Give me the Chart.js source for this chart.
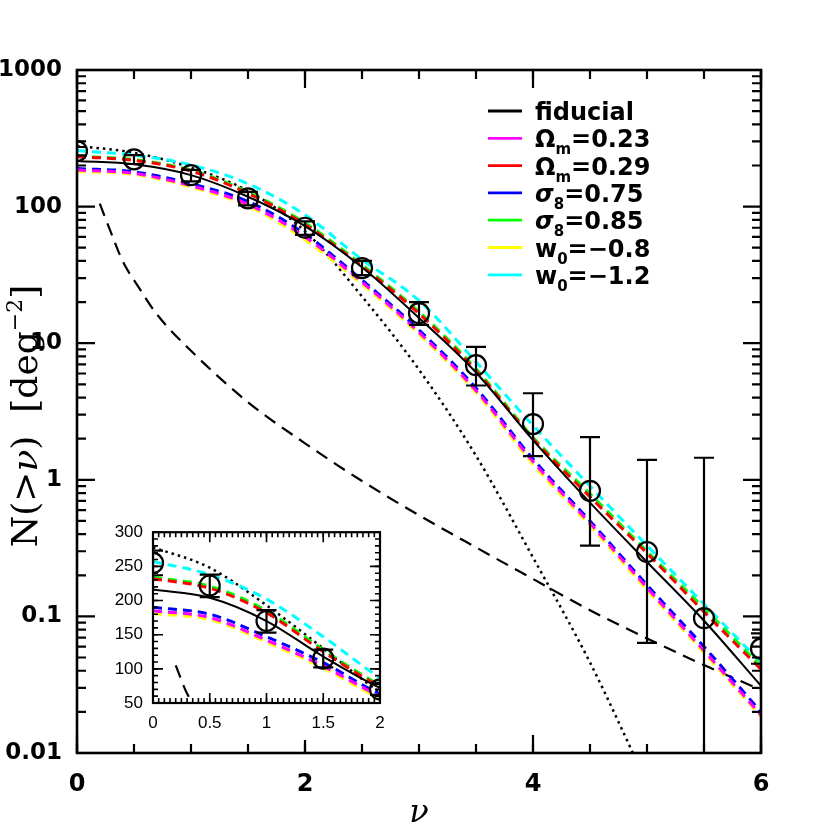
<!DOCTYPE html>
<html>
<head>
<meta charset="utf-8">
<script src="https://cdn.jsdelivr.net/npm/chart.js@4.4.0/dist/chart.umd.min.js"></script>
<style>
html, body { margin: 0; padding: 0; background: #fff; }
#wrap { position: relative; width: 830px; height: 830px; }
#main { position: absolute; left: 0; top: 0; }
#inset { position: absolute; left: 95px; top: 512px; background: #fff; }
</style>
</head>
<body>
<div id="wrap">
<canvas id="main" width="830" height="830"></canvas>
<canvas id="inset" width="300" height="228"></canvas>
</div>
<script>
// values
const nu = [0, 0.5, 1, 1.5, 2, 2.5, 3, 3.5, 4, 4.5, 5, 5.5, 6]
const fiducial = [216, 204, 170, 118, 72, 36, 15.3, 6.1, 1.95, 0.68, 0.25, 0.093, 0.031]
const om023 = [185, 175, 142, 104, 60, 28, 12, 4.5, 1.36, 0.48, 0.162, 0.056, 0.019]
const om029 = [232, 218, 182, 125, 74, 36.5, 16.5, 6.3, 2.0, 0.75, 0.29, 0.108, 0.041]
const s8075 = [190, 180, 147, 109, 63, 29, 12.5, 4.7, 1.42, 0.5, 0.17, 0.06, 0.020]
const s8085 = [234, 221, 185, 128, 76, 37.5, 17, 6.5, 2.05, 0.79, 0.30, 0.115, 0.043]
const w08 = [181, 172, 139, 101, 57, 27, 11.6, 4.35, 1.3, 0.46, 0.156, 0.054, 0.0185]
const w12 = [257, 238, 202, 147, 87, 41, 20.5, 7.3, 2.5, 0.9, 0.33, 0.123, 0.046]

const nuDot = [0, 0.5, 1, 1.5, 2, 2.5, 3, 3.5, 4, 4.5, 5]
const dotted = [278, 248, 193, 130, 66, 22, 6.4, 1.5, 0.27, 0.046, 0.006]

const nuDash = [0.2, 0.3, 0.4, 0.55, 0.7, 1, 1.5, 2, 2.5, 3, 3.5, 4, 4.5, 5, 5.5, 6]
const dashed = [105, 64, 40, 25, 16.3, 8.8, 3.7, 1.85, 0.98, 0.55, 0.32, 0.188, 0.111, 0.069, 0.044, 0.029]

const obs = [255, 222, 170, 115, 70, 35.5, 16.6, 6.9, 2.56, 0.83, 0.296, 0.097, 0.058]
const obsLo = [237, 205, 153, 102, 62, 31.5, 13.6, 4.9, 1.49, 0.33, 0.064, 0.001, 0.045]
const obsHi = [273, 238, 186, 128, 78, 40, 20, 9.4, 4.3, 2.05, 1.40, 1.45, 0.075]

const yTicks = [0.01, 0.1, 1, 10, 100, 1000]
const yTickLabels = ['0.01', '0.1', '1', '10', '100', '1000']
const xTicks = [0, 2, 4, 6]
const insetXTicks = [0, 0.5, 1, 1.5, 2]
const insetXLabels = ['0', '0.5', '1', '1.5', '2']
const insetYTicks = [50, 100, 150, 200, 250, 300]

const series = [
    {label: 'fiducial', y: fiducial, color: '#000000', sub: null},
    {label: 'Ω', sub: 'm', rest: '=0.23', y: om023, color: '#ff00ff'},
    {label: 'Ω', sub: 'm', rest: '=0.29', y: om029, color: '#ff0000'},
    {label: 'σ', sub: '8', rest: '=0.75', y: s8075, color: '#0000ff', italic: true},
    {label: 'σ', sub: '8', rest: '=0.85', y: s8085, color: '#00ff00', italic: true},
    {label: 'w', sub: '0', rest: '=−0.8', y: w08, color: '#ffff00'},
    {label: 'w', sub: '0', rest: '=−1.2', y: w12, color: '#00ffff'}
]

function pts(xs, ys) {
    return xs.map((x, i) => ({x: x, y: ys[i]}))
}

function buildDatasets() {
    let ds = []
    ds.push({
        label: 'data', data: pts(nu, obs), showLine: false,
        pointRadius: 10, pointHoverRadius: 10, pointBorderWidth: 2.2,
        pointBackgroundColor: 'rgba(0,0,0,0)', borderColor: '#000', clip: 0
    })
    series.forEach((s, i) => {
        ds.push({
            label: s.label, data: pts(nu, s.y),
            borderColor: s.color, borderWidth: i === 0 ? 2 : 3,
            borderDash: i === 0 ? [] : [9, 6],
            pointRadius: 0, cubicInterpolationMode: 'monotone', clip: 0
        })
    })
    ds.push({
        label: 'dotted', data: pts(nuDot, dotted), borderColor: '#000',
        borderWidth: 2.5, borderDash: [2.5, 4], pointRadius: 0,
        cubicInterpolationMode: 'monotone', clip: 0
    })
    ds.push({
        label: 'dashed', data: pts(nuDash, dashed), borderColor: '#000',
        borderWidth: 2.2, borderDash: [13, 8], pointRadius: 0,
        cubicInterpolationMode: 'monotone', clip: 0
    })
    return ds
}

// box with inward ticks on all four sides
const framePlugin = {
    id: 'frame',
    afterDraw(chart, args, o) {
        const ctx = chart.ctx, a = chart.chartArea
        const xs = chart.scales.x, ys = chart.scales.y
        ctx.save()
        ctx.strokeStyle = '#000'
        const draw = (vals, len, isX) => {
            ctx.beginPath()
            vals.forEach(v => {
                if (isX) {
                    const px = xs.getPixelForValue(v)
                    ctx.moveTo(px, a.bottom); ctx.lineTo(px, a.bottom - len)
                    ctx.moveTo(px, a.top); ctx.lineTo(px, a.top + len)
                } else {
                    const py = ys.getPixelForValue(v)
                    ctx.moveTo(a.left, py); ctx.lineTo(a.left + len, py)
                    ctx.moveTo(a.right, py); ctx.lineTo(a.right - len, py)
                }
            })
            ctx.stroke()
        }
        ctx.lineWidth = o.tickLw
        draw(o.xMajor, o.majorLen, true)
        draw(o.xMinor, o.minorLen, true)
        draw(o.yMajor, o.majorLen, false)
        draw(o.yMinor, o.minorLen, false)
        ctx.lineWidth = o.boxLw
        ctx.strokeRect(a.left, a.top, a.right - a.left, a.bottom - a.top)
        ctx.restore()
    }
}

const errPlugin = {
    id: 'errbars',
    afterDatasetsDraw(chart) {
        const ctx = chart.ctx, a = chart.chartArea
        const xs = chart.scales.x, ys = chart.scales.y
        ctx.save()
        ctx.beginPath()
        ctx.rect(a.left, a.top, a.right - a.left, a.bottom - a.top)
        ctx.clip()
        ctx.strokeStyle = '#000'
        ctx.lineWidth = 2.2
        ctx.beginPath()
        nu.forEach((x, i) => {
            const px = xs.getPixelForValue(x)
            const lo = ys.getPixelForValue(Math.max(obsLo[i], ys.min / 10))
            const hi = ys.getPixelForValue(obsHi[i])
            ctx.moveTo(px, lo); ctx.lineTo(px, hi)
            ctx.moveTo(px - 10, lo); ctx.lineTo(px + 10, lo)
            ctx.moveTo(px - 10, hi); ctx.lineTo(px + 10, hi)
        })
        ctx.stroke()
        ctx.restore()
    }
}

function drawPieces(ctx, pieces, x, y) {
    pieces.forEach(p => {
        ctx.font = p.f
        ctx.fillText(p.t, x, y + (p.dy || 0))
        x += ctx.measureText(p.t).width + (p.gap || 0)
    })
    return x
}

function piecesWidth(ctx, pieces) {
    let w = 0
    pieces.forEach(p => { ctx.font = p.f; w += ctx.measureText(p.t).width + (p.gap || 0) })
    return w
}

const annotPlugin = {
    id: 'annot',
    afterDraw(chart) {
        const ctx = chart.ctx
        ctx.save()
        ctx.fillStyle = '#000'
        ctx.textBaseline = 'alphabetic'
        // legend
        series.forEach((s, i) => {
            const y = 111 + i * 27.3
            ctx.strokeStyle = s.color
            ctx.lineWidth = 2.8
            ctx.beginPath(); ctx.moveTo(488, y); ctx.lineTo(522, y); ctx.stroke()
            let pieces
            if (!s.sub) {
                pieces = [{t: s.label, f: 'bold 24px "DejaVu Sans"'}]
            } else {
                pieces = [
                    {t: s.label, f: (s.italic ? 'italic ' : '') + 'bold 24px "DejaVu Sans"'},
                    {t: s.sub, f: 'bold 15px "DejaVu Sans"', dy: 7},
                    {t: s.rest, f: 'bold 24px "DejaVu Sans"'}
                ]
            }
            drawPieces(ctx, pieces, 535, y + 9)
        })
        // x title
        ctx.font = 'italic 32px "DejaVu Serif"'
        ctx.textAlign = 'center'
        ctx.fillText('ν', 419, 822)
        ctx.textAlign = 'left'
        // y title, rotated
        const yt = [
            {t: 'N(>', f: '36px "DejaVu Serif"'},
            {t: 'ν', f: 'italic 36px "DejaVu Serif"'},
            {t: ')  [deg', f: '36px "DejaVu Serif"'},
            {t: '−2', f: '22px "DejaVu Serif"', dy: -15},
            {t: ']', f: '36px "DejaVu Serif"'}
        ]
        ctx.translate(24, 416)
        ctx.rotate(-Math.PI / 2)
        const w = piecesWidth(ctx, yt)
        drawPieces(ctx, yt, -w / 2, 13)
        ctx.restore()
    }
}

function range(a, b, step) {
    let out = []
    for (let v = a; v <= b + 1e-9; v += step) out.push(+v.toFixed(4))
    return out
}

let yMinor = []
for (let e = -2; e < 3; e++) for (let k = 2; k < 10; k++) yMinor.push(k * Math.pow(10, e))

Chart.defaults.color = '#000'
Chart.defaults.animation = false

const mainChart = new Chart(document.getElementById('main'), {
    type: 'line',
    data: {datasets: buildDatasets()},
    options: {
        responsive: false,
        animation: false,
        events: [],
        layout: {padding: {top: 70, right: 69, left: 0, bottom: 0}},
        plugins: {
            legend: {display: false},
            tooltip: {enabled: false},
            frame: {
                xMajor: xTicks, xMinor: range(0, 6, 0.5), yMajor: yTicks, yMinor: yMinor,
                majorLen: 18, minorLen: 9, tickLw: 2.2, boxLw: 2.6
            }
        },
        scales: {
            x: {
                type: 'linear', min: 0, max: 6,
                afterFit: s => { s.height = 77 },
                afterBuildTicks: s => { s.ticks = xTicks.map(v => ({value: v})) },
                grid: {display: false, drawTicks: false},
                border: {display: false},
                ticks: {font: {family: 'DejaVu Sans', weight: 'bold', size: 24}, padding: 17, maxRotation: 0, autoSkip: false}
            },
            y: {
                type: 'logarithmic', min: 0.01, max: 1000,
                afterFit: s => { s.width = 77 },
                afterBuildTicks: s => { s.ticks = yTicks.map(v => ({value: v})) },
                grid: {display: false, drawTicks: false},
                border: {display: false},
                ticks: {
                    font: {family: 'DejaVu Sans', weight: 'bold', size: 23}, padding: 15, autoSkip: false,
                    callback: (v, i) => yTickLabels[i]
                }
            }
        }
    },
    plugins: [framePlugin, errPlugin, annotPlugin]
})

const insetChart = new Chart(document.getElementById('inset'), {
    type: 'line',
    data: {datasets: buildDatasets()},
    options: {
        responsive: false,
        animation: false,
        events: [],
        layout: {padding: {top: 16, right: 15, left: 0, bottom: 0}},
        plugins: {
            legend: {display: false},
            tooltip: {enabled: false},
            frame: {
                xMajor: insetXTicks, xMinor: range(0, 2, 0.05), yMajor: insetYTicks, yMinor: range(50, 300, 10),
                majorLen: 10, minorLen: 5, tickLw: 1.6, boxLw: 2.2
            }
        },
        scales: {
            x: {
                type: 'linear', min: 0, max: 2,
                afterFit: s => { s.height = 37 },
                afterBuildTicks: s => { s.ticks = insetXTicks.map(v => ({value: v})) },
                grid: {display: false, drawTicks: false},
                border: {display: false},
                ticks: {
                    font: {family: 'Liberation Sans', size: 17}, padding: 10, maxRotation: 0, autoSkip: false,
                    callback: (v, i) => insetXLabels[i]
                }
            },
            y: {
                type: 'linear', min: 50, max: 300,
                afterFit: s => { s.width = 58 },
                afterBuildTicks: s => { s.ticks = insetYTicks.map(v => ({value: v})) },
                grid: {display: false, drawTicks: false},
                border: {display: false},
                ticks: {font: {family: 'Liberation Sans', size: 17}, padding: 10, autoSkip: false}
            }
        }
    },
    plugins: [framePlugin, errPlugin]
})
</script>
</body>
</html>
